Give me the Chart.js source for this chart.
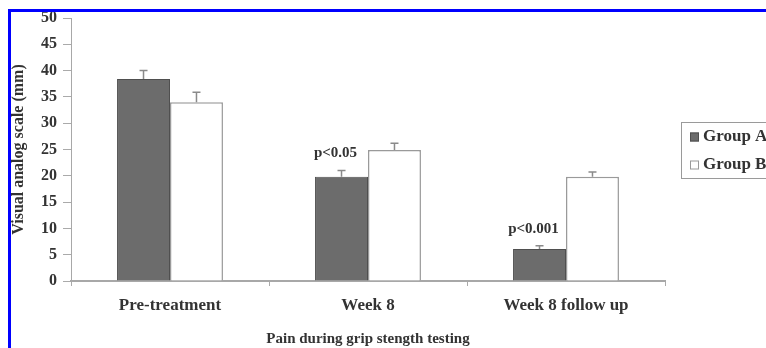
<!DOCTYPE html>
<html>
<head>
<meta charset="utf-8">
<style>
  html, body { margin: 0; padding: 0; background: #fff; overflow: hidden; }
  #wrap { position: relative; width: 766px; height: 348px; }
  #frame { position: absolute; left: 8px; top: 9px; width: 800px; height: 400px;
           border-left: 3px solid #0000ff; border-top: 3px solid #0000ff; pointer-events: none; }
  canvas { position: absolute; left: 0; top: 0; }
</style>
<script src="https://cdn.jsdelivr.net/npm/chart.js@4/dist/chart.umd.min.js"></script>
</head>
<body>
<div id="wrap">
  <canvas id="c" width="766" height="348"></canvas>
  <div id="frame"></div>
</div>
<script>
// Pain (VAS, mm) during grip strength testing, mean with upper error bar
const categories = ['Pre-treatment', 'Week 8', 'Week 8 follow up'];
const groupA = [38.4, 19.8, 6.1];
const groupB = [34.0, 24.9, 19.8];
const errA = [1.6, 1.2, 0.6];
const errB = [1.9, 1.3, 0.9];
const pLabels = ['', 'p<0.05', 'p<0.001'];
const yTicks = [0, 5, 10, 15, 20, 25, 30, 35, 40, 45, 50];

const serif = "'Liberation Serif', 'DejaVu Serif', serif";
const textColor = '#333';

// Upward error bars with caps, plus significance notes over Group A
const errorBars = {
  id: 'errorBars',
  afterDatasetsDraw(chart) {
    const ctx = chart.ctx;
    const y = chart.scales.y;
    const errs = [errA, errB];
    ctx.save();
    chart.data.datasets.forEach((ds, di) => {
      const meta = chart.getDatasetMeta(di);
      meta.data.forEach((bar, i) => {
        const top = y.getPixelForValue(ds.data[i] + errs[di][i]);
        ctx.strokeStyle = '#8a8a8a';
        ctx.lineWidth = 1.5;
        ctx.beginPath();
        ctx.moveTo(bar.x, bar.y);
        ctx.lineTo(bar.x, top);
        ctx.moveTo(bar.x - 4, top);
        ctx.lineTo(bar.x + 4, top);
        ctx.stroke();
        if (di === 0 && pLabels[i]) {
          ctx.fillStyle = textColor;
          ctx.font = 'bold 15px ' + serif;
          ctx.textAlign = 'center';
          ctx.textBaseline = 'middle';
          ctx.fillText(pLabels[i], bar.x - 6, top - 17);
        }
      });
    });
    ctx.restore();
  }
};

// Boxed legend at the right edge
const boxLegend = {
  id: 'boxLegend',
  afterDraw(chart) {
    const ctx = chart.ctx;
    ctx.save();
    ctx.strokeStyle = '#9a9a9a';
    ctx.lineWidth = 1;
    ctx.strokeRect(681.5, 122.5, 100, 56);
    chart.data.datasets.forEach((ds, i) => {
      const cy = 137 + i * 28;
      ctx.fillStyle = ds.backgroundColor;
      ctx.fillRect(690, cy - 4.5, 9, 9);
      ctx.strokeStyle = ds.borderColor;
      ctx.strokeRect(690.5, cy - 4, 8, 8);
      ctx.fillStyle = textColor;
      ctx.font = 'bold 17px ' + serif;
      ctx.textAlign = 'left';
      ctx.textBaseline = 'middle';
      ctx.fillText(ds.label, 703, cy);
    });
    ctx.restore();
  }
};

new Chart(document.getElementById('c'), {
  type: 'bar',
  data: {
    labels: categories,
    datasets: [
      { label: 'Group A', data: groupA, backgroundColor: '#6c6c6c', borderColor: '#4f4f4f', borderWidth: 1 },
      { label: 'Group B', data: groupB, backgroundColor: '#ffffff', borderColor: '#9a9a9a', borderWidth: 1.5 }
    ]
  },
  options: {
    responsive: false,
    animation: false,
    devicePixelRatio: 1,
    layout: { padding: { top: 18, right: 101, left: 0, bottom: 0 } },
    categoryPercentage: 0.535,
    barPercentage: 1,
    plugins: { legend: { display: false }, tooltip: { enabled: false } },
    scales: {
      x: {
        afterFit(s) { s.height = 67; },
        grid: { offset: true, drawOnChartArea: false, drawTicks: true, tickLength: 5, color: '#aaa' },
        border: { display: true, color: '#a8a8a8', width: 2 },
        ticks: { color: textColor, font: { family: serif, size: 17, weight: 'bold' }, padding: 9, maxRotation: 0 },
        title: { display: true, text: 'Pain during grip stength testing', color: textColor,
                 font: { family: serif, size: 15, weight: 'bold' }, padding: { top: 4, bottom: 0 } }
      },
      y: {
        min: 0, max: 50,
        afterFit(s) { s.width = 71; },
        afterBuildTicks(s) { s.ticks = yTicks.map(v => ({ value: v })); },
        grid: { drawOnChartArea: false, drawTicks: true, tickLength: 8, color: '#aaa' },
        border: { display: true, color: '#a8a8a8', width: 1 },
        ticks: { color: textColor, font: { family: serif, size: 16, weight: 'bold' }, padding: 6 },
        title: { display: true, text: 'Visual analog scale (mm)', color: textColor,
                 font: { family: serif, size: 16, weight: 'bold' }, padding: { top: 9, bottom: 0 } }
      }
    }
  },
  plugins: [errorBars, boxLegend]
});
</script>
</body>
</html>
